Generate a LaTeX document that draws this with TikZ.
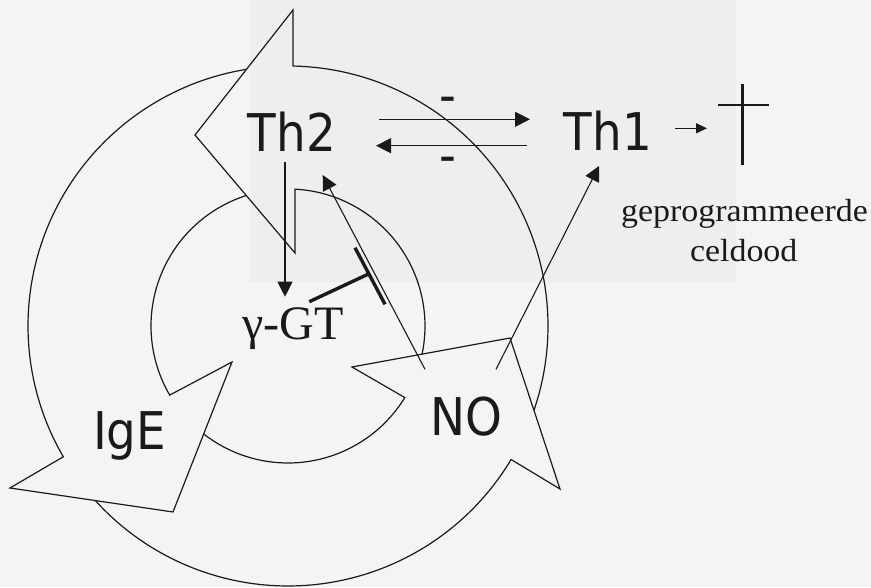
\documentclass[tikz,border=0pt]{standalone}
\usepackage{fontspec}
\setmainfont{Liberation Serif}
\newfontfamily\lblfont[FakeStretch=0.9]{DejaVu Sans}
\newfontfamily\wfont[FakeStretch=1.06]{Liberation Serif}
\usetikzlibrary{arrows.meta}
\definecolor{bgcol}{HTML}{F4F4F4}
\definecolor{rectcol}{HTML}{EEEEEE}
\definecolor{ink}{HTML}{1A1A1A}
\tikzset{
  x=1pt, y=1pt,
  cyclearrow/.style={draw=ink, line width=1.2pt, line join=miter},
  conn/.style={draw=ink, line width=1.1pt, -{Triangle[length=15pt,width=15pt]}},
  smallconn/.style={draw=ink, line width=1.1pt, -{Triangle[length=11pt,width=10pt]}},
  bigsans/.style={inner sep=0pt, text=ink, font=\lblfont\fontsize{52}{60}\selectfont},
  serifbig/.style={inner sep=0pt, text=ink, font=\fontsize{48}{56}\selectfont},
  seriftxt/.style={inner sep=0pt, text=ink, font=\wfont\fontsize{32}{40}\selectfont},
  inhib/.style={draw=ink, line width=3.4pt},
  crossline/.style={draw=ink, line width=2.6pt}
}
\begin{document}
\begin{tikzpicture}
\useasboundingbox (0,0) rectangle (871,587);
\fill[bgcol] (0,0) rectangle (871,587);
\fill[rectcol] (250,305) rectangle (736,587);

% cyclic arrows (center at (288,261))
\begin{scope}[shift={(288,261)}]
  % arrow A (top, pointing left)
  \draw[cyclearrow] (-18.92:260) arc[start angle=-18.92, end angle=88.9, radius=260]
     -- (5,316) -- (-93,191) -- (7,73) -- (87.07:137)
     arc[start angle=87.07, end angle=-11.83, radius=137];
  % arrow B (left, pointing down-right)
  \draw[cyclearrow] (99.18:260) arc[start angle=99.18, end angle=210.2, radius=260]
     -- (-278,-162) -- (-115,-186) -- (-56,-36) -- (210.3:137)
     arc[start angle=210.3, end angle=107.7, radius=137];
  % arrow C (bottom, pointing up-right)
  \draw[cyclearrow] (222.18:260) arc[start angle=222.18, end angle=329.1, radius=260]
     -- (272,-163) -- (222,-12) -- (64,-41) -- (328.5:137)
     arc[start angle=328.5, end angle=232.0, radius=137];
\end{scope}

% labels
\node[bigsans, anchor=base] (th2) at (292,435) {Th2};
\node[bigsans, anchor=base] (th1) at (608,436) {Th1};
\node[bigsans, anchor=base] (minusA) at (447.5,473.7) {-};
\node[bigsans, anchor=base] (minusB) at (447.5,413) {-};
\node[bigsans, anchor=base] (ige) at (129.7,137) {IgE};
\node[bigsans, anchor=base] (no) at (466,151) {NO};
\node[serifbig, anchor=base] (ggt) at (293,247) {γ-GT};
\node[seriftxt, anchor=base] (gep) at (744.5,365.3) {geprogrammeerde};
\node[seriftxt, anchor=base] (cel) at (743.7,325.3) {celdood};

% connector end points
\coordinate (th2r1) at (379.3,467.7);
\coordinate (th1l1) at (530,467.7);
\coordinate (th1l2) at (526.7,441.3);
\coordinate (th2r2) at (376,441.3);
\coordinate (th2b) at (285,425.3);
\coordinate (ggtt) at (285,290.3);
\coordinate (noA) at (425,217.7);
\coordinate (th2bb) at (322.7,412);
\coordinate (noB) at (496,217.7);
\coordinate (th1b) at (599,421);
\coordinate (th1r) at (675,458.7);
\coordinate (crossl) at (707,458.7);
\coordinate (ggtr) at (309.3,285.3);
\coordinate (barmid) at (370,313.7);
\coordinate (barA) at (355,339.3);
\coordinate (barB) at (385,282.7);
\coordinate (crossT) at (742.7,503);
\coordinate (crossB) at (742.7,422);
\coordinate (crossL) at (717.7,482);
\coordinate (crossR) at (769.3,482);

% connectors
\draw[conn] (th2r1) -- (th1l1);
\draw[conn] (th1l2) -- (th2r2);
\draw[conn] (th2b) -- (ggtt);
\draw[conn] (noA) -- (th2bb);
\draw[conn] (noB) -- (th1b);
\draw[smallconn] (th1r) -- (crossl);

% inhibition
\draw[inhib] (ggtr) -- (barmid);
\draw[inhib] (barA) -- (barB);

% cross
\draw[crossline] (crossT) -- (crossB);
\draw[crossline] (crossL) -- (crossR);
\end{tikzpicture}
\end{document}
